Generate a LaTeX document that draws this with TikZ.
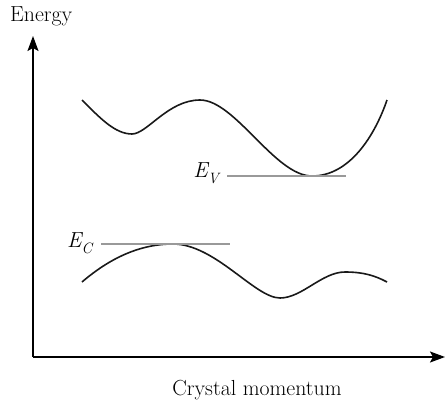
\documentclass[tikz,border=0pt]{standalone}
\usepackage{fontspec}
\usepackage{tikz}
\usetikzlibrary{arrows.meta,positioning}

% Niveaubezeichnung E mit Index
\newcommand{\lvlname}[1]{{\itshape E}\raisebox{-0.28em}{\fontsize{15}{17}\selectfont\itshape #1}}

\begin{document}
\begin{tikzpicture}[
  x=1pt, y=-1pt,
  every node/.style={font=\fontsize{21.8}{26}\selectfont, inner sep=0pt},
  axis/.style={line width=1.6pt, -{Stealth[length=15pt,width=11pt,inset=3pt]}},
  band/.style={line width=1.6pt, black!90},
  level/.style={line width=1.3pt, black!40}
]
  \useasboundingbox (0,0) rectangle (445,402);

  % --- Achsen ---
  \coordinate (O)  at (33,357);
  \coordinate (yT) at (33,36);
  \coordinate (xT) at (445,357);
  \draw[axis] (O) -- (yT);
  \draw[axis] (O) -- (xT);
  \node (ylab) [anchor=base west] at (10,21) {Energy};
  \node (xlab) [anchor=base] at (257,395) {Crystal momentum};

  % --- obere Bandkurve ---
  \draw[band] (82,100) .. controls (100,118) and (115,134) .. (132,134)
              .. controls (147,134) and (168,100) .. (200,100)
              .. controls (235,100) and (275,176) .. (312,176)
              .. controls (350,176) and (375,135) .. (387,100);

  % --- untere Bandkurve ---
  \draw[band] (82,282) .. controls (110,258) and (140,244) .. (173,244)
              .. controls (215,244) and (255,298) .. (280,298)
              .. controls (302,298) and (322,272) .. (345,272)
              .. controls (362,272) and (374,275) .. (387,282);

  % --- Niveaus ---
  \node (EV) [anchor=base east] at (219,177) {\lvlname{V}};
  \coordinate (EVa) at (227,176);
  \coordinate (EVb) at (346,176);
  \draw[level] (EVa) -- (EVb);

  \node (EC) [anchor=base west] at (67,247) {\lvlname{C}};
  \coordinate (ECa) at (101,244);
  \coordinate (ECb) at (230,244);
  \draw[level] (ECa) -- (ECb);
\end{tikzpicture}
\end{document}
